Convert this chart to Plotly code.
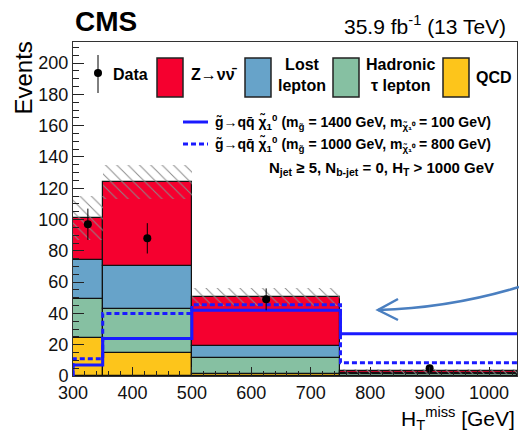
import plotly.graph_objects as go

# ---- data ----
bin_edges = [300, 350, 500, 750, 1047]
qcd = [24, 15, 1.2, 0.3]
had_tau = [25, 28, 10.5, 1.0]
lost_lep = [25, 27, 7.3, 0.5]
znunu = [27, 54, 31.5, 1.2]
bkg_unc = [14, 11, 6, 1.5]

data_x = [325, 425, 625, 900]
data_y = [97, 88, 49, 5]
data_err = [10, 9.7, 7, 2.2]

sig1 = [7, 24, 42, 27]   # m_gluino=1400, m_LSP=100
sig2 = [11, 40, 45.5, 8.5]  # m_gluino=1000, m_LSP=800

C_Z = "#f5002f"
C_LL = "#67a3c9"
C_TAU = "#86c0a2"
C_QCD = "#fdc51b"
SIG = "#1a1aff"
FONT = "Liberation Sans"

W, H = 519, 432
ML, MR, MT, MB = 73, 2, 42, 56


def px(x):
    return (x - ML) / (W - ML - MR)


def py(y):
    return (H - MB - y) / (H - MT - MB)


centers = [(bin_edges[i] + bin_edges[i + 1]) / 2 for i in range(4)]
widths = [bin_edges[i + 1] - bin_edges[i] for i in range(4)]

fig = go.Figure()
base = [0, 0, 0, 0]
for vals, col in [(qcd, C_QCD), (had_tau, C_TAU), (lost_lep, C_LL), (znunu, C_Z)]:
    fig.add_trace(go.Bar(x=centers, y=vals, base=list(base), width=widths,
                         marker=dict(color=col, line=dict(color="#111", width=1.2)),
                         showlegend=False, hoverinfo="skip"))
    base = [b + v for b, v in zip(base, vals)]

total = base
fig.add_trace(go.Bar(x=centers, y=[2 * e for e in bkg_unc],
                     base=[t - e for t, e in zip(total, bkg_unc)], width=widths,
                     marker=dict(color="rgba(0,0,0,0)", line=dict(width=0),
                                 pattern=dict(shape="\\", fgcolor="#8a8a8a",
                                              bgcolor="rgba(0,0,0,0)", size=8,
                                              solidity=0.12, fillmode="replace")),
                     showlegend=False, hoverinfo="skip"))

for sig, dash in [(sig1, "solid"), (sig2, "5px,3px")]:
    xs = [bin_edges[0]] + bin_edges[:4] + [bin_edges[4]]
    ys = [0] + sig + [sig[-1]]
    fig.add_trace(go.Scatter(x=xs, y=ys, mode="lines", line_shape="hv",
                             line=dict(color=SIG, width=3, dash=dash),
                             showlegend=False, hoverinfo="skip"))

fig.add_trace(go.Scatter(x=data_x, y=data_y, mode="markers",
                         marker=dict(color="black", size=8),
                         error_y=dict(type="data", array=data_err, color="black",
                                      thickness=1, width=0),
                         showlegend=False))

shapes = []
annots = []

# legend row 1
shapes.append(dict(type="line", xref="paper", yref="paper", x0=px(98), x1=px(98),
                   y0=py(55), y1=py(93), line=dict(color="black", width=1)))
shapes.append(dict(type="circle", xref="paper", yref="paper", x0=px(94), x1=px(102),
                   y0=py(77), y1=py(69), fillcolor="black", line=dict(width=0)))
annots.append(dict(x=px(111), y=py(74), text="<b>Data</b>", xanchor="left"))
for x0, col in [(157, C_Z), (245, C_LL), (333, C_TAU), (443, C_QCD)]:
    shapes.append(dict(type="rect", xref="paper", yref="paper", x0=px(x0), x1=px(x0 + 26),
                       y0=py(97), y1=py(58), fillcolor=col, line=dict(color="#222", width=1.5)))
annots.append(dict(x=px(189), y=py(75), text="<b>Z→νν\u0304</b>", xanchor="left"))
annots.append(dict(x=px(276), y=py(75), text="<b>Lost<br>lepton</b>", xanchor="left"))
annots.append(dict(x=px(364), y=py(75), text="<b>Hadronic<br>τ lepton</b>", xanchor="left"))
annots.append(dict(x=px(474), y=py(77), text="<b>QCD</b>", xanchor="left"))

# signal legend
shapes.append(dict(type="line", xref="paper", yref="paper", x0=px(183), x1=px(208),
                   y0=py(122), y1=py(122), line=dict(color=SIG, width=3)))
shapes.append(dict(type="line", xref="paper", yref="paper", x0=px(183), x1=px(208),
                   y0=py(144), y1=py(144), line=dict(color=SIG, width=3, dash="5px,3px")))
annots.append(dict(x=px(213), y=py(122), font=dict(size=14),
                   text="<b>g\u0303→qq\u0304 χ\u0303<sub>1</sub><sup>0</sup> (m<sub>g\u0303</sub> = 1400 GeV, m<sub>χ\u0303₁⁰</sub> = 100 GeV)</b>",
                   xanchor="left"))
annots.append(dict(x=px(213), y=py(144), font=dict(size=14),
                   text="<b>g\u0303→qq\u0304 χ\u0303<sub>1</sub><sup>0</sup> (m<sub>g\u0303</sub> = 1000 GeV, m<sub>χ\u0303₁⁰</sub> = 800 GeV)</b>",
                   xanchor="left"))
annots.append(dict(x=px(496), y=py(168), font=dict(size=15),
                   text="<b>N<sub>jet</sub> ≥ 5, N<sub>b-jet</sub> = 0, H<sub>T</sub> > 1000 GeV</b>",
                   xanchor="right"))

# arrow
ARC = "#4a7fc0"
shapes.append(dict(type="path", xref="paper", yref="paper",
                   path=f"M {px(519)},{py(287)} Q {px(450)},{py(308)} {px(378)},{py(310)}",
                   line=dict(color=ARC, width=2.5)))
shapes.append(dict(type="path", xref="paper", yref="paper",
                   path=f"M {px(398)},{py(299)} L {px(378)},{py(310)} L {px(398)},{py(320)}",
                   line=dict(color=ARC, width=2.5)))

# titles
annots.append(dict(x=px(73), y=py(22), text="<b>CMS</b>", xanchor="left",
                   font=dict(size=28)))
annots.append(dict(x=px(508), y=py(25), text="35.9 fb<sup>-1</sup> (13 TeV)", xanchor="right",
                   font=dict(size=21)))
annots.append(dict(x=px(23), y=py(40), text="Events", textangle=-90, xanchor="center",
                   yanchor="top", font=dict(size=24)))
annots.append(dict(x=px(517), y=py(418), text="H<sub>T</sub><sup>miss</sup> [GeV]", xanchor="right",
                   font=dict(size=21)))

for a in annots:
    a.setdefault("xref", "paper")
    a.setdefault("yref", "paper")
    a.setdefault("showarrow", False)
    a.setdefault("yanchor", "middle")
    f = a.setdefault("font", {})
    f.setdefault("size", 16)
    f.setdefault("family", FONT)
    f.setdefault("color", "black")

fig.update_layout(
    width=W, height=H, margin=dict(l=ML, r=MR, t=MT, b=MB),
    barmode="overlay", bargap=0, plot_bgcolor="white", paper_bgcolor="white",
    font=dict(family=FONT, size=18, color="#111"),
    shapes=shapes, annotations=annots,
    xaxis=dict(range=[300, 1047], tickvals=[300, 400, 500, 600, 700, 800, 900, 1000],
               ticks="inside", ticklen=9, tickcolor="#222", showgrid=False, zeroline=False,
               showline=True, linecolor="#333", linewidth=1, mirror=True,
               minor=dict(ticks="inside", ticklen=5, dtick=20, tickcolor="#222")),
    yaxis=dict(range=[0, 213.5], tickvals=list(range(0, 201, 20)),
               ticks="inside", ticklen=11, tickcolor="#222", showgrid=False, zeroline=False,
               showline=True, linecolor="#333", linewidth=1, mirror=True,
               minor=dict(ticks="inside", ticklen=6, dtick=5, tickcolor="#222")),
)

fig.write_html("out.html")
